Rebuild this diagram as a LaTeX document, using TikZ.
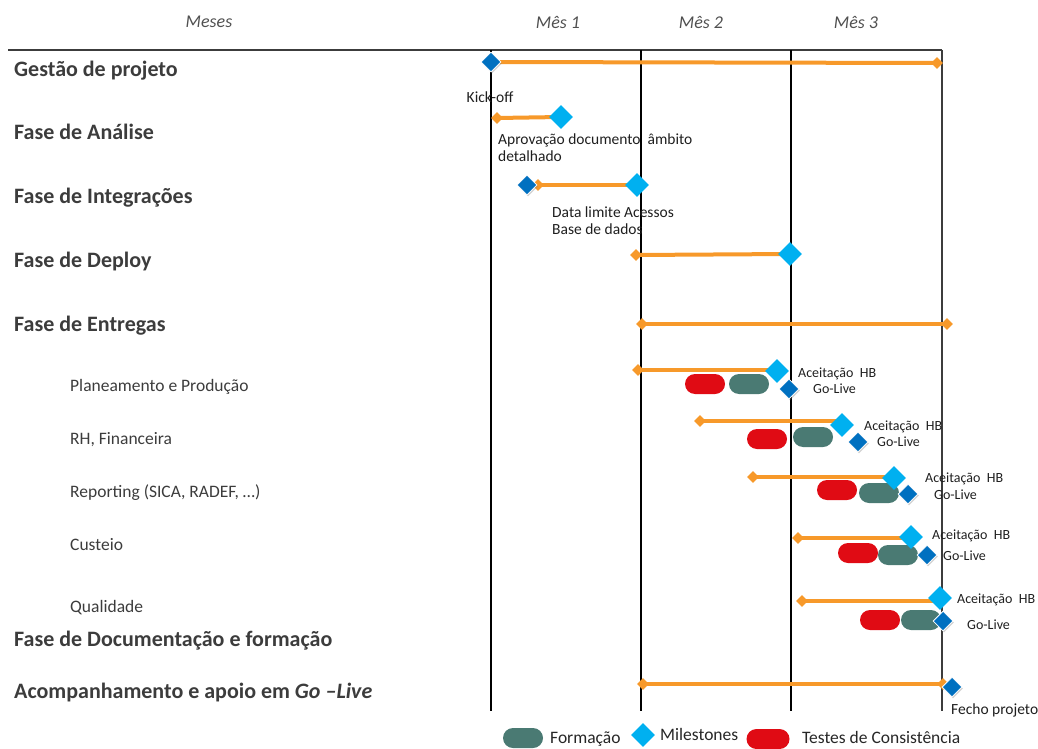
\documentclass[tikz,border=0pt]{standalone}
\usepackage{fontspec}
\setmainfont{Carlito}
\usetikzlibrary{shapes.geometric,shadows}

\definecolor{barorange}{HTML}{F7992A}
\definecolor{mscyan}{HTML}{00B0F0}
\definecolor{msblue}{HTML}{0070C0}
\definecolor{testred}{HTML}{E00B14}
\definecolor{trainteal}{HTML}{4A7A73}
\definecolor{labelgray}{HTML}{3C3C3C}
\definecolor{headgray}{HTML}{505050}

\pgfdeclarelayer{gridlayer}
\pgfdeclarelayer{barlayer}
\pgfsetlayers{gridlayer,barlayer,main}

\tikzset{
  phase/.style={anchor=mid west, text=labelgray, inner sep=0,
    font=\fontsize{22}{26}\selectfont\bfseries},
  subphase/.style={anchor=mid west, text=labelgray, inner sep=0,
    font=\fontsize{17.5}{21}\selectfont},
  month/.style={text=headgray, inner sep=0, font=\fontsize{18}{21}\selectfont\itshape},
  note/.style={text=black!88, inner sep=0, align=left, font=\fontsize{14}{17}\selectfont},
  bignote/.style={note, font=\fontsize{15.5}{17}\selectfont},
  legendtext/.style={anchor=mid west, text=black!85, inner sep=0, font=\fontsize{17.5}{20}\selectfont},
  gridline/.style={line width=1.3pt, black},
  frameline/.style={line width=2pt, labelgray},
  bar/.style={draw=barorange, line width=4pt},
  tick/.style={diamond, aspect=1, fill=barorange, minimum size=12pt, inner sep=0},
  msa/.style={diamond, aspect=1, fill=mscyan, minimum size=24pt, inner sep=0},
  msb/.style={diamond, aspect=1, fill=msblue, draw=white, line width=0.8pt,
    minimum size=20pt, inner sep=0,
    drop shadow={opacity=0.35, shadow xshift=1pt, shadow yshift=-1.5pt}},
  pill/.style={rounded corners=10pt, minimum width=40pt, minimum height=20pt, inner sep=0},
  testpill/.style={pill, fill=testred},
  trainpill/.style={pill, fill=trainteal},
}

\begin{document}
\begin{tikzpicture}[x=1pt,y=-1pt]
\useasboundingbox (0,0) rectangle (1038,749);

% ---- header
\node[month] (hdr0) at (209,22) {Meses};
\node[month] (hdr1) at (558,22) {Mês 1};
\node[month] (hdr2) at (701,22) {Mês 2};
\node[month] (hdr3) at (856,22) {Mês 3};

% ---- time grid
\coordinate (hl) at (8,50);
\coordinate (hr) at (942,50);
\coordinate (v0t) at (491,50);  \coordinate (v0b) at (491,711);
\coordinate (v1t) at (641,50);  \coordinate (v1b) at (641,711);
\coordinate (v2t) at (791,50);  \coordinate (v2b) at (791,711);
\coordinate (v3t) at (942,50);  \coordinate (v3b) at (942,711);
\begin{pgfonlayer}{gridlayer}
  \draw[frameline] (hl) -- (hr);
  \draw[gridline] (v0t) -- (v0b);
  \draw[gridline] (v1t) -- (v1b);
  \draw[gridline] (v2t) -- (v2b);
  \draw[frameline] (v3t) -- (v3b);
\end{pgfonlayer}

% ---- activity names
\node[phase] (p1) at (14,74) {Gestão de projeto};
\node[phase] (p2) at (14,137) {Fase de Análise};
\node[phase] (p3) at (14,201) {Fase de Integrações};
\node[phase] (p4) at (14,265) {Fase de Deploy};
\node[phase] (p5) at (14,329) {Fase de Entregas};
\node[subphase] (s1) at (70,389) {Planeamento e Produção};
\node[subphase] (s2) at (70,442) {RH, Financeira};
\node[subphase] (s3) at (70,495) {Reporting (SICA, RADEF, …)};
\node[subphase] (s4) at (70,548) {Custeio};
\node[subphase] (s5) at (70,610) {Qualidade};
\node[phase] (p6) at (14,644) {Fase de Documentação e formação};
\node[phase] (p7) at (14,696) {Acompanhamento e apoio em \textit{Go –Live}};

% ---- Gestão de projeto
\node[tick] (r1e) at (937,63) {};
\node[msb] (r1s) at (491,62) {};
\node[bignote] (r1n) at (490,97) {Kick-off};

% ---- Fase de Análise
\node[tick] (r2s) at (497,118) {};
\node[msa] (r2m) at (561,117) {};
\node[bignote, anchor=north west] (r2n) at (498,134) {Aprovação documento\ \ âmbito\\detalhado};

% ---- Fase de Integrações
\node[tick] (r3s) at (538,185) {};
\node[msb] (r3k) at (527,185) {};
\node[msa] (r3m) at (637,185) {};
\node[bignote, anchor=north west] (r3n) at (552,207) {Data limite Acessos\\Base de dados};

% ---- Fase de Deploy
\node[tick] (r4s) at (636,255) {};
\node[msa] (r4m) at (790,254) {};

% ---- Fase de Entregas
\node[tick] (r5s) at (642,324) {};
\node[tick] (r5e) at (947,324) {};

% ---- Planeamento e Produção
\node[testpill] (t1) at (705,384) {};
\node[trainpill] (f1) at (749,384) {};
\node[tick] (r6s) at (638,370) {};
\node[msa] (r6a) at (777,371) {};
\node[msb] (r6g) at (789,389) {};
\node[note, anchor=mid west] (r6na) at (798,375) {Aceitação\ \ HB};
\node[note, anchor=mid west] (r6ng) at (813,391) {Go-Live};

% ---- RH, Financeira
\node[testpill] (t2) at (767,439) {};
\node[trainpill] (f2) at (813,437) {};
\node[tick] (r7s) at (700,421) {};
\node[msa] (r7a) at (842,425) {};
\node[msb] (r7g) at (858,442) {};
\node[note, anchor=mid west] (r7na) at (864,428) {Aceitação\ \ HB};
\node[note, anchor=mid west] (r7ng) at (877,444) {Go-Live};

% ---- Reporting
\node[testpill] (t3) at (837,490) {};
\node[trainpill] (f3) at (879,493) {};
\node[tick] (r8s) at (753,477) {};
\node[msa] (r8a) at (894,478) {};
\node[msb] (r8g) at (908,494) {};
\node[note, anchor=mid west] (r8na) at (925,480) {Aceitação\ \ HB};
\node[note, anchor=mid west] (r8ng) at (934,497) {Go-Live};

% ---- Custeio
\node[testpill] (t4) at (858,553) {};
\node[trainpill] (f4) at (898,555) {};
\node[tick] (r9s) at (798,538) {};
\node[msa] (r9a) at (911,537) {};
\node[msb] (r9g) at (927,555) {};
\node[note, anchor=mid west] (r9na) at (932,537) {Aceitação\ \ HB};
\node[note, anchor=mid west] (r9ng) at (943,558) {Go-Live};

% ---- Qualidade
\node[testpill] (t5) at (880,620) {};
\node[trainpill] (f5) at (921,620) {};
\node[tick] (r10s) at (802,601) {};
\node[msa] (r10a) at (940,598) {};
\node[msb] (r10g) at (943,621) {};
\node[note, anchor=mid west] (r10na) at (957,601) {Aceitação\ \ HB};
\node[note, anchor=mid west] (r10ng) at (967,627) {Go-Live};

% ---- Acompanhamento e apoio em Go-Live
\node[tick] (r12s) at (643,684) {};
\node[tick] (r12e) at (943,684) {};
\node[msb] (r12f) at (952,687) {};
\node[bignote, anchor=mid west] (r12n) at (951,712) {Fecho projeto};

% ---- duration bars
\begin{pgfonlayer}{barlayer}
  \draw[bar] (r1s.center) -- (r1e.center);
  \draw[bar] (r2s.center) -- (r2m.center);
  \draw[bar] (r3s.center) -- (r3m.center);
  \draw[bar] (r4s.center) -- (r4m.center);
  \draw[bar] (r5s.center) -- (r5e.center);
  \draw[bar] (r6s.center) -- (r6s.center -| r6a.center);
  \draw[bar] (r7s.center) -- (r7s.center -| r7a.center);
  \draw[bar] (r8s.center) -- (r8s.center -| r8a.center);
  \draw[bar] (r9s.center) -- (r9s.center -| r9a.center);
  \draw[bar] (r10s.center) -- (r10s.center -| r10a.center);
  \draw[bar] (r12s.center) -- (r12e.center);
\end{pgfonlayer}

% ---- legend
\node[trainpill] (lg1) at (523,738) {};
\node[legendtext] (lg1t) at (550,741) {Formação};
\node[msa] (lg2) at (643,735) {};
\node[legendtext] (lg2t) at (660,738) {Milestones};
\node[testpill, minimum width=43pt] (lg3) at (768,739) {};
\node[legendtext] (lg3t) at (802,741) {Testes de Consistência};
\end{tikzpicture}
\end{document}
